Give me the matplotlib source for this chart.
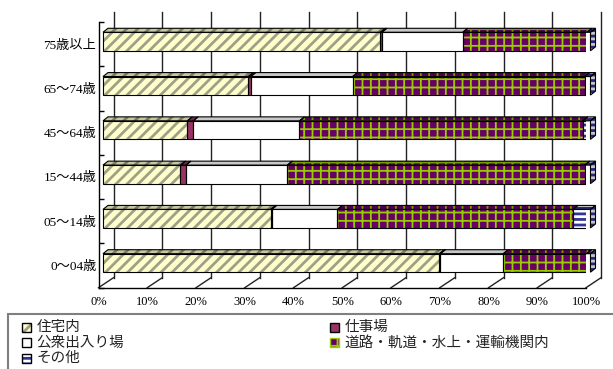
import numpy as np
import matplotlib
matplotlib.use('Agg')
import matplotlib.pyplot as plt
from matplotlib.patches import Polygon, Rectangle

plt.rcParams['font.family'] = ['Liberation Serif', 'Noto Sans CJK JP']

# 年齢階級（下から上）
ages = ['0～04歳', '05～14歳', '15～44歳', '45～64歳', '65～74歳', '75歳以上']
places = ['住宅内', '仕事場', '公衆出入り場', '道路・軌道・水上・運輸機関内', 'その他']

# 発生場所別の割合 (%)
jutaku = [69.0, 34.4, 15.9, 17.3, 29.8, 56.9]
shigoto = [0.2, 0.2, 1.1, 1.2, 0.5, 0.3]
koshu = [12.9, 13.5, 20.8, 21.8, 20.9, 16.6]
doro = [17.1, 48.3, 61.0, 58.1, 47.6, 25.5]
sonota = [0.8, 3.6, 1.2, 1.6, 1.2, 0.7]

series = [jutaku, shigoto, koshu, doro, sonota]
# (塗り色, ハッチ, ハッチ色, ハッチ線幅)
styles = [
    ('#FFFFCC', '///', '#A0A088', 2.0),
    ('#993366', None, '#993366', 1.0),
    ('#FFFFFF', None, '#FFFFFF', 1.0),
    ('#660066', '++', '#99CC00', 1.3),
    ('#FFFFFF', '---', '#333399', 2.0),
]

# 奥行き（データ単位）
DX, DY = 3.08, 0.226       # 壁の奥行き
BX, BY = 0.92, 0.059       # 棒の前面位置
BDX, BDY = 1.03, 0.09      # 棒の奥行き
H = 0.418

fig = plt.figure(figsize=(6.13, 3.69), dpi=100)
ax = fig.add_axes([98.5 / 613, (369 - 287.7) / 369, 487.5 / 613, 265.7 / 369])
ax.set_facecolor('none')
ax.set_xlim(0, 100)
ax.set_ylim(-0.5, 5.5)

ticks = np.arange(0, 101, 10)
# 奥の壁の目盛線と床の斜線
for t in ticks:
    ax.plot([t + DX, t + DX], [-0.5 + DY, 5.5 + DY], color='#222222', lw=1, clip_on=False, zorder=1)
    ax.plot([t, t + DX], [-0.5, -0.5 + DY], color='#222222', lw=1, clip_on=False, zorder=1)

y = np.arange(len(ages))
left = np.zeros(len(ages))
for vals, (fc, hatch, hc, hlw) in zip(series, styles):
    vals = np.array(vals)
    with plt.rc_context({'hatch.linewidth': hlw}):
        ax.barh(y + BY, vals, left=left + BX, height=H, color=fc, edgecolor=hc,
                hatch=hatch, linewidth=0, zorder=3)
        for yi, l, w in zip(y, left, vals):
            top = yi + BY + H / 2
            pts = [(l + BX, top), (l + w + BX, top), (l + w + BX + BDX, top + BDY), (l + BX + BDX, top + BDY)]
            ax.add_patch(Polygon(pts, facecolor=fc, edgecolor=hc, hatch=hatch, lw=0, zorder=3, clip_on=False))
            ax.add_patch(Polygon(pts, facecolor='black', alpha=0.22, lw=0, zorder=3, clip_on=False))
            ax.add_patch(Polygon(pts, fill=False, edgecolor='black', lw=0.8, zorder=4, clip_on=False))
    ax.barh(y + BY, vals, left=left + BX, height=H, fill=False,
            edgecolor='black', linewidth=0.8, zorder=4)
    left = left + vals

# 右端の側面
fc, hatch, hc, hlw = styles[-1]
with plt.rc_context({'hatch.linewidth': hlw}):
    for yi, r in zip(y, left):
        bot, top = yi + BY - H / 2, yi + BY + H / 2
        pts = [(r + BX, bot), (r + BX, top), (r + BX + BDX, top + BDY), (r + BX + BDX, bot + BDY)]
        ax.add_patch(Polygon(pts, facecolor=fc, edgecolor=hc, hatch=hatch, lw=0, zorder=3, clip_on=False))
        ax.add_patch(Polygon(pts, facecolor='black', alpha=0.22, lw=0, zorder=3, clip_on=False))
        ax.add_patch(Polygon(pts, fill=False, edgecolor='black', lw=0.8, zorder=4, clip_on=False))

for s in ['top', 'right']:
    ax.spines[s].set_visible(False)
for s in ['left', 'bottom']:
    ax.spines[s].set_color('black')
    ax.spines[s].set_linewidth(1)
    ax.spines[s].set_zorder(2)

ax.set_yticks(y, ages, fontsize=9.5)
ax.set_yticks(np.arange(-0.5, 6, 1), minor=True)
ax.tick_params(axis='y', which='major', length=0, pad=1.5)
ax.tick_params(axis='y', which='minor', direction='in', length=3.6, width=1)
ax.set_xticks(ticks, [f'{t}%' for t in ticks], fontsize=9)
ax.tick_params(axis='x', length=0, pad=6)

# 凡例
lax = fig.add_axes([0, 0, 1, 1], zorder=-1)
lax.set_xlim(0, 613)
lax.set_ylim(369, 0)
lax.axis('off')
lax.add_patch(Rectangle((8.3, 314.3), 620, 80, facecolor='white', edgecolor='#7F7F7F', lw=1.5))
slots = [(22, 327), (330, 327), (22, 342.5), (330, 342.5), (22, 358)]
for name, (fc, hatch, hc, hlw), (lx, ly) in zip(places, styles, slots):
    ec = '#99CC00' if hatch == '++' else 'black'
    with plt.rc_context({'hatch.linewidth': hlw}):
        lax.add_patch(Rectangle((lx, ly - 4.5), 9, 9, facecolor=fc, edgecolor=hc, hatch=hatch, lw=0))
    lax.add_patch(Rectangle((lx, ly - 4.5), 9, 9, fill=False, edgecolor=ec, lw=1))
    lax.text(lx + 14.5, ly, name, fontsize=10.5, family='Noto Sans CJK JP',
             color='#222222', va='center', ha='left')

fig.savefig('out.png', dpi=100)
